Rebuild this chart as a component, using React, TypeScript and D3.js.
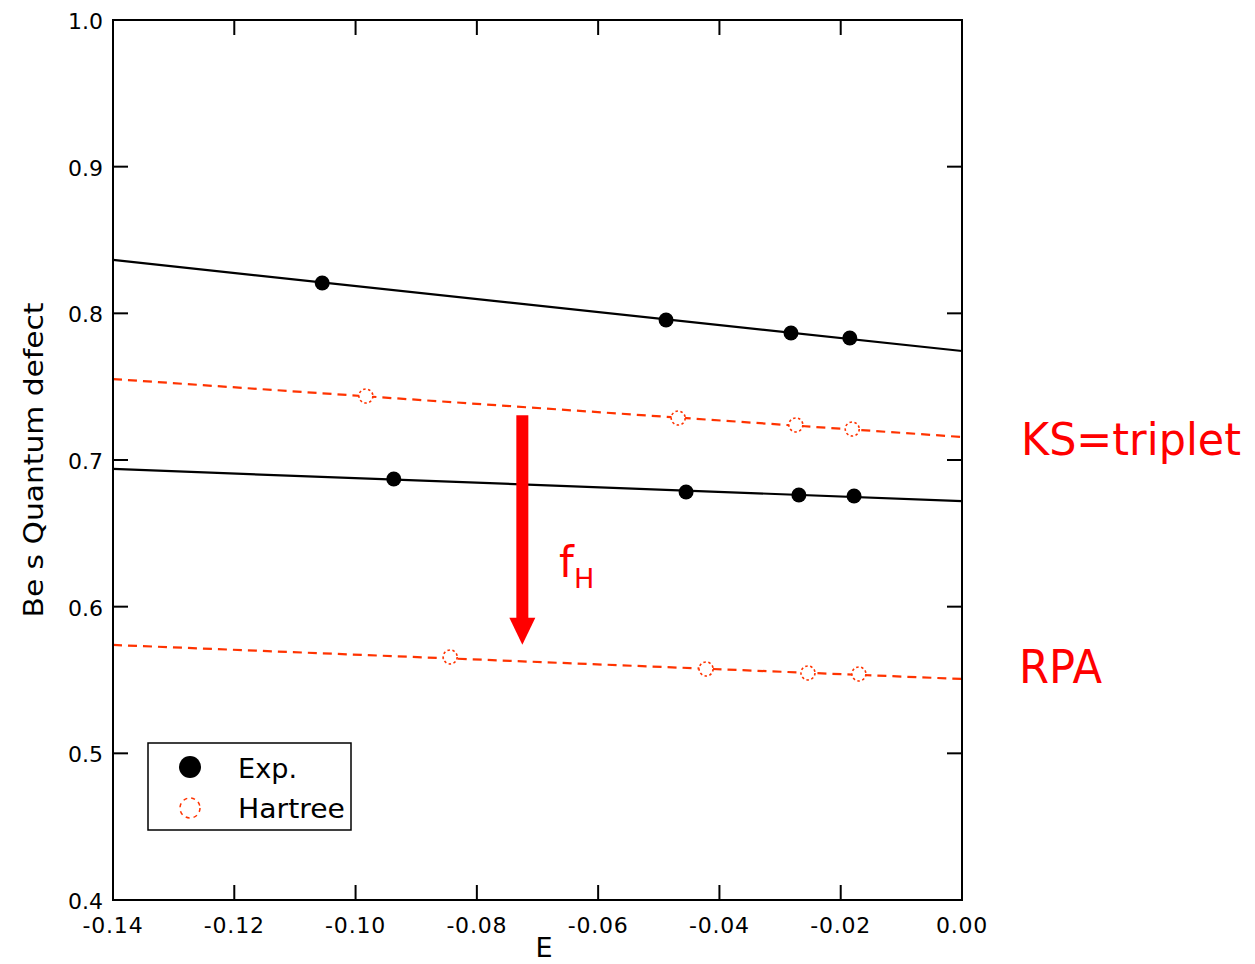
import React from "react";
import * as d3 from "d3";

const xTicks = [-0.14, -0.12, -0.1, -0.08, -0.06, -0.04, -0.02, 0.0];
const yTicks = [0.4, 0.5, 0.6, 0.7, 0.8, 0.9, 1.0];

// Experimental points (two series)
const expUpperE = [-0.1055, -0.0488, -0.0282, -0.0185];
const expUpperQ = [0.8207, 0.7955, 0.7866, 0.7832];
const expLowerE = [-0.0937, -0.0455, -0.0269, -0.0178];
const expLowerQ = [0.687, 0.6782, 0.6761, 0.6755];
// Hartree points (two series)
const hartUpperE = [-0.0983, -0.0468, -0.0274, -0.0181];
const hartUpperQ = [0.7436, 0.7286, 0.7239, 0.7211];
const hartLowerE = [-0.0844, -0.0422, -0.0254, -0.017];
const hartLowerQ = [0.5657, 0.5575, 0.5548, 0.5541];

// Fit lines, values at E = -0.14 and E = 0
const fitE = [-0.14, 0.0];
const fitExpUpper = [0.8364, 0.7743];
const fitExpLower = [0.6939, 0.672];
const fitHartUpper = [0.7552, 0.7157];
const fitHartLower = [0.5739, 0.5507];

// Arrow (E position, from / to defect)
const arrowE = -0.0725;
const arrowFrom = 0.7305;
const arrowTo = 0.574;

const RED = "#ff3300";
const FONT = "'DejaVu Sans', Verdana, sans-serif";
const HAND = "'Comic Sans MS', 'DejaVu Sans', sans-serif";

export default function App() {
  const x = d3.scaleLinear().domain([-0.14, 0]).range([113, 962]);
  const y = d3.scaleLinear().domain([0.4, 1.0]).range([900, 20]);
  const line = d3
    .line<[number, number]>()
    .x((d) => x(d[0]))
    .y((d) => y(d[1]));
  const zip = (a: number[], b: number[]) => a.map((v, i) => [v, b[i]] as [number, number]);

  const tickLen = 15;
  const ax = x(arrowE);
  const ay0 = y(arrowFrom);
  const ay1 = y(arrowTo);
  const headLen = 27;
  const shaftW = 12;
  const headW = 26;

  return (
    <svg width={1255} height={964} style={{ position: "absolute", left: 0, top: 0, background: "#fff" }}>
      <rect x={0} y={0} width={1255} height={964} fill="#fff" />
      {/* fit lines */}
      <path d={line(zip(fitE, fitExpUpper)) || ""} stroke="#000" strokeWidth={2.2} fill="none" />
      <path d={line(zip(fitE, fitExpLower)) || ""} stroke="#000" strokeWidth={2.2} fill="none" />
      <path d={line(zip(fitE, fitHartUpper)) || ""} stroke={RED} strokeWidth={2.2} strokeDasharray="9,6" fill="none" />
      <path d={line(zip(fitE, fitHartLower)) || ""} stroke={RED} strokeWidth={2.2} strokeDasharray="9,6" fill="none" />

      {/* points */}
      {zip(expUpperE, expUpperQ).concat(zip(expLowerE, expLowerQ)).map((d, i) => (
        <circle key={"e" + i} cx={x(d[0])} cy={y(d[1])} r={7.5} fill="#000" />
      ))}
      {zip(hartUpperE, hartUpperQ).concat(zip(hartLowerE, hartLowerQ)).map((d, i) => (
        <circle key={"h" + i} cx={x(d[0])} cy={y(d[1])} r={7} fill="#fff" stroke={RED} strokeWidth={1.6} strokeDasharray="2.5,2.5" />
      ))}

      {/* frame */}
      <rect x={113} y={20} width={849} height={880} fill="none" stroke="#000" strokeWidth={2} />
      {xTicks.map((t, i) => (
        <g key={"xt" + i}>
          <line x1={x(t)} x2={x(t)} y1={900} y2={900 - tickLen} stroke="#000" strokeWidth={2} />
          <line x1={x(t)} x2={x(t)} y1={20} y2={20 + tickLen} stroke="#000" strokeWidth={2} />
          <text x={x(t)} y={933} textAnchor="middle" fontFamily={FONT} fontSize={22} letterSpacing={0.8}>
            {t === 0 ? "0.00" : d3.format(".2f")(t).replace("−", "-")}
          </text>
        </g>
      ))}
      {yTicks.map((t, i) => (
        <g key={"yt" + i}>
          <line x1={113} x2={113 + tickLen} y1={y(t)} y2={y(t)} stroke="#000" strokeWidth={2} />
          <line x1={962} x2={962 - tickLen} y1={y(t)} y2={y(t)} stroke="#000" strokeWidth={2} />
          <text x={103} y={y(t) + 9} textAnchor="end" fontFamily={FONT} fontSize={22}>
            {d3.format(".1f")(t)}
          </text>
        </g>
      ))}

      {/* axis titles */}
      <text x={544} y={957} textAnchor="middle" fontFamily={FONT} fontSize={27}>E</text>
      <text
        transform={`translate(43,460) rotate(-90)`}
        textAnchor="middle"
        fontFamily={FONT}
        fontSize={26}
        textLength={315}
        lengthAdjust="spacingAndGlyphs"
      >
        Be s Quantum defect
      </text>

      {/* legend */}
      <rect x={148} y={743} width={203} height={87} fill="#fff" stroke="#000" strokeWidth={1.5} />
      <circle cx={190} cy={767} r={11} fill="#000" />
      <circle cx={190} cy={808} r={10} fill="none" stroke={RED} strokeWidth={1.5} strokeDasharray="4,4" />
      <text x={238} y={778} fontFamily={FONT} fontSize={27} textLength={59} lengthAdjust="spacingAndGlyphs">Exp.</text>
      <text x={238} y={818} fontFamily={FONT} fontSize={27} textLength={107} lengthAdjust="spacingAndGlyphs">Hartree</text>

      {/* arrow */}
      <rect x={ax - shaftW / 2} y={ay0} width={shaftW} height={ay1 - ay0 - headLen + 1} fill="#ff0000" />
      <path
        d={`M${ax - headW / 2},${ay1 - headLen} L${ax + headW / 2},${ay1 - headLen} L${ax},${ay1} Z`}
        fill="#ff0000"
      />
      <text x={559} y={577} fontFamily={HAND} fontSize={42} fill="#ff0000">f</text>
      <text x={574} y={588} fontFamily={HAND} fontSize={27} fill="#ff0000">H</text>

      {/* annotations */}
      <text x={1021} y={455} fontFamily={HAND} fontSize={45} fill="#ff0000" textLength={220} lengthAdjust="spacingAndGlyphs">
        KS=triplet
      </text>
      <text x={1019} y={683} fontFamily={HAND} fontSize={46} fill="#ff0000" textLength={83} lengthAdjust="spacingAndGlyphs">
        RPA
      </text>
    </svg>
  );
}
